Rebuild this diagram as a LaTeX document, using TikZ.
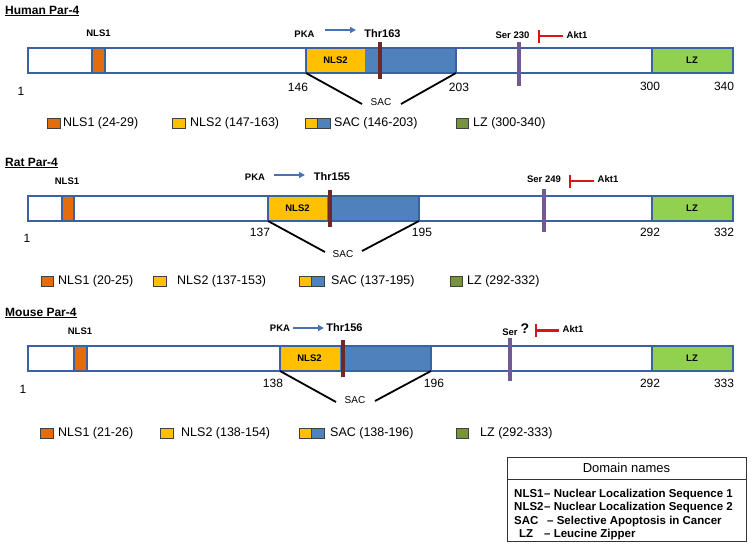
\documentclass[tikz,border=0pt]{standalone}
\usepackage{fontspec}
\setmainfont{Liberation Sans}
\usetikzlibrary{arrows.meta}
\definecolor{barc}{RGB}{58,98,160}
\definecolor{sacb}{RGB}{79,129,189}
\definecolor{ylw}{RGB}{255,192,0}
\definecolor{orng}{RGB}{228,108,10}
\definecolor{lzg}{RGB}{146,208,80}
\definecolor{lzl}{RGB}{119,147,60}
\definecolor{thrc}{RGB}{110,40,40}
\definecolor{serc}{RGB}{112,90,150}
\definecolor{pkac}{RGB}{70,115,180}
\definecolor{aktc}{RGB}{220,20,20}
\begin{document}
\begin{tikzpicture}[x=1pt,y=-1pt,
  barout/.style={draw=barc, line width=2pt},
  segsep/.style={draw=barc, line width=1.5pt},
  thrmark/.style={draw=thrc, line width=4pt},
  sermark/.style={draw=serc, line width=4pt},
  sacline/.style={draw=black, line width=1.8pt},
  pkaarrow/.style={draw=pkac, line width=1.6pt, -{Triangle[length=6pt,width=6pt]}},
  aktinh/.style={draw=aktc, line width=2.4pt, -{Bar[width=13pt]}},
  lbox/.style={draw=black!75, line width=0.8pt, minimum width=12.5pt, minimum height=10pt, inner sep=0pt, outer sep=0pt},
  ttl/.style={font=\bfseries\fontsize{12}{14}\selectfont, anchor=west, inner sep=0pt},
  dlbl/.style={font=\bfseries\fontsize{9.5}{11}\selectfont, inner sep=0pt},
  ptm/.style={font=\bfseries\fontsize{11}{13}\selectfont, inner sep=0pt},
  num/.style={font=\fontsize{12}{14}\selectfont, inner sep=0pt},
  saclbl/.style={font=\fontsize{10}{12}\selectfont, inner sep=0pt},
  lgd/.style={font=\fontsize{12.5}{14}\selectfont, anchor=west, inner sep=0pt},
  dtxt/.style={font=\bfseries\fontsize{11.5}{13}\selectfont, anchor=west, inner sep=0pt}
]
\useasboundingbox (0,0) rectangle (751,555);

% ================= Human =================
\node[ttl] (htitle) at (5,11) {\underline{Human Par-4}};
\fill[white] (28,48) rectangle (733,73);
\fill[orng] (92,48) rectangle (105,73);
\fill[ylw] (306,48) rectangle (365,73);
\fill[sacb] (365,48) rectangle (456,73);
\fill[lzg] (652,48) rectangle (733,73);
\draw[segsep] (92,48)--(92,73) (105,48)--(105,73) (306,48)--(306,73) (456,48)--(456,73) (652,48)--(652,73);
\draw[barout] (28,48) rectangle (733,73);
\node[dlbl] (hnls2) at (335.5,60.5) {NLS2};
\node[dlbl] (hlz) at (692,60.5) {LZ};
\node[dlbl] (hnls1) at (98.5,33) {NLS1};
\draw[thrmark] (380,42) -- (380,79);
\draw[sermark] (519,42) -- (519,86);
\node[dlbl] (hpka) at (304.5,34) {PKA};
\node[ptm] (hthr) at (382.5,34) {Thr163};
\coordinate (hpkaS) at (325,30);
\coordinate (hpkaE) at (356,30);
\draw[pkaarrow] (hpkaS) -- (hpkaE);
\node[dlbl] (hser) at (512.5,35) {Ser 230};
\node[dlbl] (hakt) at (577,35) {Akt1};
\coordinate (hinhS) at (563,36);
\coordinate (hinh) at (538,36);
\draw[aktinh] (hinhS) -- (hinh);
\node[num] (h1) at (21,91) {1};
\node[num] (h146) at (298,87) {146};
\node[num] (h203) at (459,87) {203};
\node[num] (h300) at (650,86) {300};
\node[num] (h340) at (724,86) {340};
\node[saclbl] (hsac) at (381,102) {SAC};
\coordinate (hsacA) at (306,73);
\coordinate (hsacB) at (456,73);
\coordinate (hsacL) at (362,104);
\coordinate (hsacR) at (401,104);
\draw[sacline] (hsacA) -- (hsacL);
\draw[sacline] (hsacB) -- (hsacR);
% legend
\node[lbox,fill=orng] (hk1) at (54,123) {};
\node[lgd] (hk1t) at (63,123) {NLS1 (24-29)};
\node[lbox,fill=ylw] (hk2) at (179,123) {};
\node[lgd] (hk2t) at (190,123) {NLS2 (147-163)};
\node[lbox,fill=ylw] (hk3a) at (311.25,123) {};
\node[lbox,fill=sacb,anchor=west] (hk3b) at (hk3a.east) {};
\node[lgd] (hk3t) at (334,123) {SAC (146-203)};
\node[lbox,fill=lzl] (hk4) at (462.5,123) {};
\node[lgd] (hk4t) at (473,123) {LZ (300-340)};

% ================= Rat =================
\node[ttl] (rtitle) at (5,163) {\underline{Rat Par-4}};
\fill[white] (28,196) rectangle (733,221);
\fill[orng] (62,196) rectangle (74,221);
\fill[ylw] (268,196) rectangle (327,221);
\fill[sacb] (327,196) rectangle (419,221);
\fill[lzg] (652,196) rectangle (733,221);
\draw[segsep] (62,196)--(62,221) (74,196)--(74,221) (268,196)--(268,221) (419,196)--(419,221) (652,196)--(652,221);
\draw[barout] (28,196) rectangle (733,221);
\node[dlbl] (rnls2) at (297.5,208.5) {NLS2};
\node[dlbl] (rlz) at (692,208.5) {LZ};
\node[dlbl] (rnls1) at (67,181) {NLS1};
\draw[thrmark] (330,190) -- (330,227);
\draw[sermark] (544,189) -- (544,232);
\node[dlbl] (rpka) at (255,177) {PKA};
\node[ptm] (rthr) at (332,177) {Thr155};
\coordinate (rpkaS) at (274,175);
\coordinate (rpkaE) at (305,175);
\draw[pkaarrow] (rpkaS) -- (rpkaE);
\node[dlbl] (rser) at (544,179) {Ser 249};
\node[dlbl] (rakt) at (608,179) {Akt1};
\coordinate (rinhS) at (594,181);
\coordinate (rinh) at (569,181);
\draw[aktinh] (rinhS) -- (rinh);
\node[num] (r1) at (27,238) {1};
\node[num] (r137) at (260,232) {137};
\node[num] (r195) at (422,232) {195};
\node[num] (r292) at (650,232) {292};
\node[num] (r332) at (724,232) {332};
\node[saclbl] (rsac) at (343,254) {SAC};
\coordinate (rsacA) at (268,221);
\coordinate (rsacB) at (419,221);
\coordinate (rsacL) at (325,252);
\coordinate (rsacR) at (362,251);
\draw[sacline] (rsacA) -- (rsacL);
\draw[sacline] (rsacB) -- (rsacR);
% legend
\node[lbox,fill=orng] (rk1) at (47.5,281) {};
\node[lgd] (rk1t) at (58,281) {NLS1 (20-25)};
\node[lbox,fill=ylw] (rk2) at (160,281) {};
\node[lgd] (rk2t) at (177,281) {NLS2 (137-153)};
\node[lbox,fill=ylw] (rk3a) at (305.25,281) {};
\node[lbox,fill=sacb,anchor=west] (rk3b) at (rk3a.east) {};
\node[lgd] (rk3t) at (331,281) {SAC (137-195)};
\node[lbox,fill=lzl] (rk4) at (456.5,281) {};
\node[lgd] (rk4t) at (467,281) {LZ (292-332)};

% ================= Mouse =================
\node[ttl] (mtitle) at (5,313) {\underline{Mouse Par-4}};
\fill[white] (28,346) rectangle (733,371);
\fill[orng] (74,346) rectangle (87,371);
\fill[ylw] (280,346) rectangle (340,371);
\fill[sacb] (340,346) rectangle (431,371);
\fill[lzg] (652,346) rectangle (733,371);
\draw[segsep] (74,346)--(74,371) (87,346)--(87,371) (280,346)--(280,371) (431,346)--(431,371) (652,346)--(652,371);
\draw[barout] (28,346) rectangle (733,371);
\node[dlbl] (mnls2) at (309.5,358.5) {NLS2};
\node[dlbl] (mlz) at (692,358.5) {LZ};
\node[dlbl] (mnls1) at (80,331) {NLS1};
\draw[thrmark] (343,340) -- (343,377);
\draw[sermark] (510,338) -- (510,381);
\node[dlbl] (mpka) at (280,328) {PKA};
\node[ptm] (mthr) at (344.5,328) {Thr156};
\coordinate (mpkaS) at (293,328);
\coordinate (mpkaE) at (324,328);
\draw[pkaarrow] (mpkaS) -- (mpkaE);
\node[dlbl] (mser) at (510,332) {Ser};
\node[font=\bfseries\fontsize{14}{16}\selectfont, inner sep=0pt] (mq) at (525,329) {?};
\node[dlbl] (makt) at (573,329) {Akt1};
\coordinate (minhS) at (559,330.5);
\coordinate (minh) at (535,330.5);
\draw[aktinh] (minhS) -- (minh);
\node[num] (m1) at (23,389) {1};
\node[num] (m138) at (273,383) {138};
\node[num] (m196) at (434,383) {196};
\node[num] (m292) at (650,383) {292};
\node[num] (m333) at (724,383) {333};
\node[saclbl] (msac) at (355,400) {SAC};
\coordinate (msacA) at (280,371);
\coordinate (msacB) at (431,371);
\coordinate (msacL) at (336,402);
\coordinate (msacR) at (375,401);
\draw[sacline] (msacA) -- (msacL);
\draw[sacline] (msacB) -- (msacR);
% legend
\node[lbox,fill=orng] (mk1) at (47,433) {};
\node[lgd] (mk1t) at (58,433) {NLS1 (21-26)};
\node[lbox,fill=ylw] (mk2) at (167,433) {};
\node[lgd] (mk2t) at (181,433) {NLS2 (138-154)};
\node[lbox,fill=ylw] (mk3a) at (305.25,433) {};
\node[lbox,fill=sacb,anchor=west] (mk3b) at (mk3a.east) {};
\node[lgd] (mk3t) at (330,433) {SAC (138-196)};
\node[lbox,fill=lzl] (mk4) at (462.5,433) {};
\node[lgd] (mk4t) at (480,433) {LZ (292-333)};

% ================= Domain names box =================
\draw[draw=black!80, line width=1pt] (507,457) rectangle (746,541);
\draw[draw=black!80, line width=1pt] (507,479) -- (746,479);
\node[font=\fontsize{13}{15}\selectfont, inner sep=0pt] (dtitle) at (626.5,468) {Domain names};
\node[dtxt] (d1) at (514,494.5) {\makebox[30pt][l]{NLS1}– Nuclear Localization Sequence 1};
\node[dtxt] (d2) at (514,508) {\makebox[30pt][l]{NLS2}– Nuclear Localization Sequence 2};
\node[dtxt] (d3) at (514,521.5) {\makebox[33pt][l]{SAC}– Selective Apoptosis in Cancer};
\node[dtxt] (d4) at (514,535) {\makebox[30pt][l]{\hspace{5pt}LZ}– Leucine Zipper};
\end{tikzpicture}
\end{document}
